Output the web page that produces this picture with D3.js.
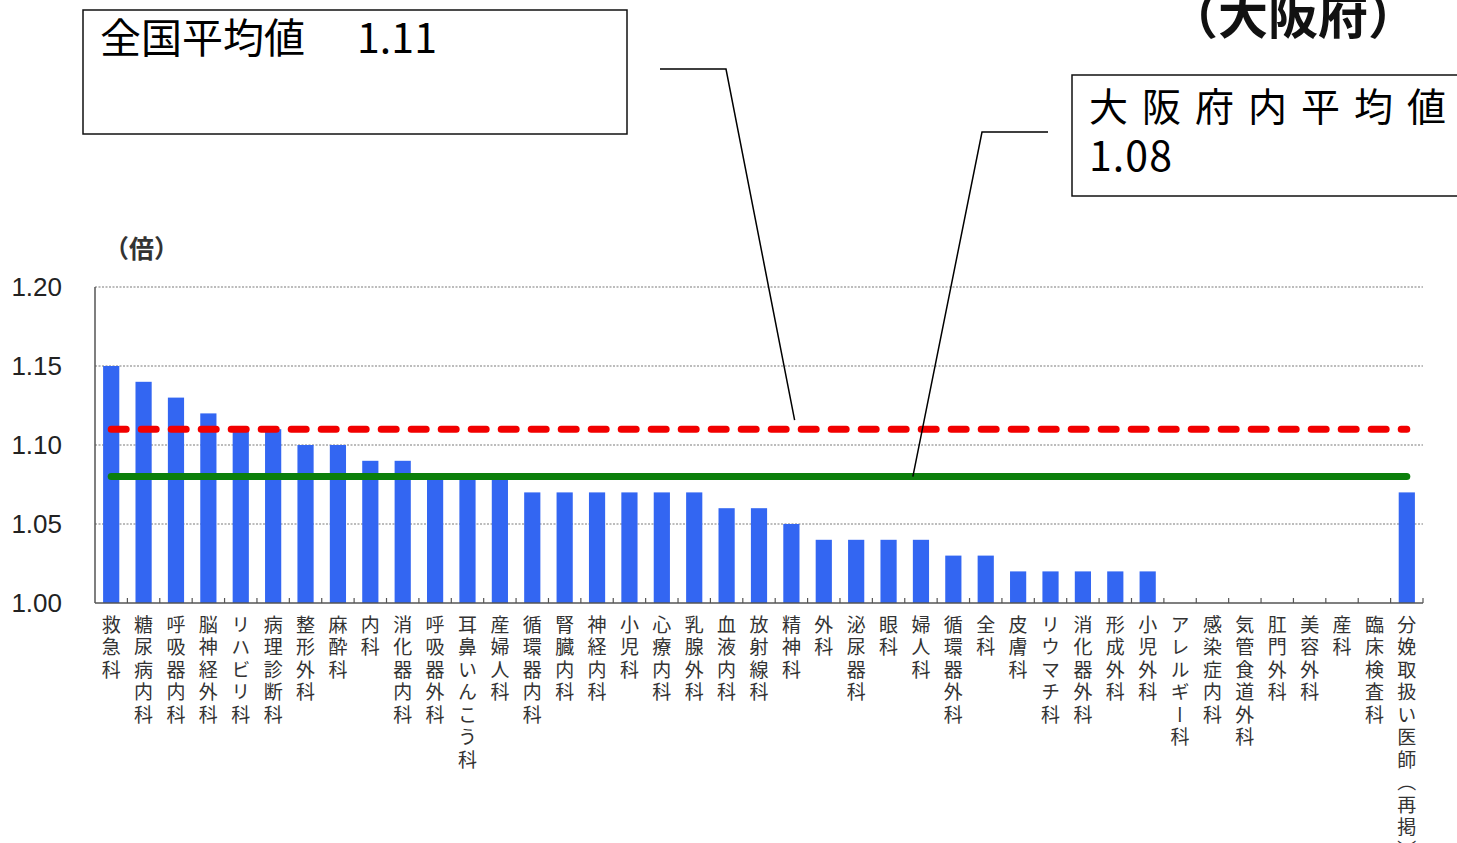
<!DOCTYPE html>
<html lang="ja">
<head>
<meta charset="utf-8">
<script src="https://cdn.jsdelivr.net/npm/d3@7"></script>
<style>
  html, body { margin: 0; padding: 0; background: #fff; overflow: hidden; }
  svg { display: block; }
  .cat { writing-mode: vertical-rl; }
</style>
</head>
<body>
<svg id="chart" width="1457" height="843"></svg>
<script>
// 診療科別の倍率（大阪府）
const categories = [
  "救急科", "糖尿病内科", "呼吸器内科", "脳神経外科", "リハビリ科", "病理診断科",
  "整形外科", "麻酔科", "内科", "消化器内科", "呼吸器外科", "耳鼻いんこう科",
  "産婦人科", "循環器内科", "腎臓内科", "神経内科", "小児科", "心療内科",
  "乳腺外科", "血液内科", "放射線科", "精神科", "外科", "泌尿器科", "眼科",
  "婦人科", "循環器外科", "全科", "皮膚科", "リウマチ科", "消化器外科",
  "形成外科", "小児外科", "アレルギー科", "感染症内科", "気管食道外科",
  "肛門外科", "美容外科", "産科", "臨床検査科", "分娩取扱い医師（再掲）"
];
const values = [
  1.15, 1.14, 1.13, 1.12, 1.11, 1.11,
  1.10, 1.10, 1.09, 1.09, 1.08, 1.08,
  1.08, 1.07, 1.07, 1.07, 1.07, 1.07,
  1.07, 1.06, 1.06, 1.05, 1.04, 1.04, 1.04,
  1.04, 1.03, 1.03, 1.02, 1.02, 1.02,
  1.02, 1.02, 1.00, 1.00, 1.00,
  1.00, 1.00, 1.00, 1.00, 1.07
];
const yTicks = [1.00, 1.05, 1.10, 1.15, 1.20];
const nationalAverage = 1.11;
const prefectureAverage = 1.08;
const titleText = "（大阪府）";
const unitText = "（倍）";
const nationalLabel = "全国平均値";
const prefectureLabel = "大阪府内平均値";

const svg = d3.select("#chart");
const plot = { left: 95, right: 1423, top: 287, bottom: 603 };
const jp = "'Noto Sans CJK JP', 'Noto Sans', sans-serif";

const x = d3.scaleBand()
  .domain(categories)
  .range([plot.left, plot.right])
  .paddingInner(0.5)
  .paddingOuter(0.25);

const y = d3.scaleLinear()
  .domain([1.00, 1.20])
  .range([plot.bottom, plot.top]);

const cx = c => x(c) + x.bandwidth() / 2;

// dotted horizontal grid lines
svg.append("g")
  .selectAll("line")
  .data(yTicks.filter(t => t > 1.00))
  .join("line")
  .attr("x1", plot.left).attr("x2", plot.right)
  .attr("y1", d => y(d)).attr("y2", d => y(d))
  .attr("stroke", "#7a7a7a")
  .attr("stroke-width", 1.2)
  .attr("stroke-dasharray", "2,1.5");

// bars
svg.append("g")
  .selectAll("rect")
  .data(categories.map((c, i) => ({ c, v: values[i] })))
  .join("rect")
  .attr("x", d => x(d.c))
  .attr("width", x.bandwidth())
  .attr("y", d => y(d.v))
  .attr("height", d => y(1.00) - y(d.v))
  .attr("fill", "#3366f2");

// y axis: labels only, with a plain vertical rule
const yAxis = d3.axisLeft(y)
  .tickValues(yTicks)
  .tickFormat(d3.format(".2f"))
  .tickSize(0)
  .tickPadding(33);
const gy = svg.append("g")
  .attr("transform", `translate(${plot.left},0)`)
  .call(yAxis);
gy.select(".domain").remove();
gy.selectAll("text")
  .attr("font-family", "'Liberation Sans', Arial, sans-serif")
  .attr("font-size", 26)
  .attr("fill", "#222");

svg.append("line")
  .attr("x1", plot.left).attr("x2", plot.left)
  .attr("y1", y(1.20)).attr("y2", y(1.00))
  .attr("stroke", "#555").attr("stroke-width", 1.5);

// x axis baseline with ticks between the categories
svg.append("line")
  .attr("x1", plot.left).attr("x2", plot.right)
  .attr("y1", y(1.00)).attr("y2", y(1.00))
  .attr("stroke", "#555").attr("stroke-width", 1.5);
svg.append("g")
  .selectAll("line")
  .data(d3.range(1, categories.length + 1))
  .join("line")
  .attr("x1", i => plot.left + i * x.step())
  .attr("x2", i => plot.left + i * x.step())
  .attr("y1", y(1.00)).attr("y2", y(1.00) - 5)
  .attr("stroke", "#555").attr("stroke-width", 1.2);

// category labels, written vertically
svg.append("g")
  .selectAll("text")
  .data(categories)
  .join("text")
  .attr("class", "cat")
  .attr("x", d => cx(d))
  .attr("y", y(1.00) + 12)
  .attr("text-anchor", "start")
  .attr("font-family", jp)
  .attr("font-size", 19)
  .attr("letter-spacing", 3.5)
  .attr("fill", "#333")
  .text(d => d);

// average reference lines
const first = categories[0], last = categories[categories.length - 1];
svg.append("line")
  .attr("x1", cx(first)).attr("x2", cx(last))
  .attr("y1", y(prefectureAverage)).attr("y2", y(prefectureAverage))
  .attr("stroke", "#0b7f0b")
  .attr("stroke-width", 7)
  .attr("stroke-linecap", "round");
svg.append("line")
  .attr("x1", cx(first)).attr("x2", cx(last))
  .attr("y1", y(nationalAverage)).attr("y2", y(nationalAverage))
  .attr("stroke", "#f20000")
  .attr("stroke-width", 7)
  .attr("stroke-linecap", "round")
  .attr("stroke-dasharray", "15,15");

// unit label
svg.append("text")
  .attr("x", 104).attr("y", 258)
  .attr("font-family", jp)
  .attr("font-size", 25)
  .attr("font-weight", 700)
  .attr("fill", "#333")
  .text(unitText);

// title
svg.append("text")
  .attr("x", 1168).attr("y", 34)
  .attr("font-family", jp)
  .attr("font-size", 50)
  .attr("font-weight", 700)
  .attr("fill", "#111")
  .text(titleText);

// national average callout
svg.append("rect")
  .attr("x", 83).attr("y", 10).attr("width", 544).attr("height", 124)
  .attr("fill", "#fff").attr("stroke", "#111").attr("stroke-width", 1.5);
const t1 = svg.append("text")
  .attr("y", 53)
  .attr("font-family", jp)
  .attr("font-size", 41)
  .attr("fill", "#000");
t1.append("tspan").attr("x", 100).text(nationalLabel);
t1.append("tspan").attr("x", 357)
  .attr("textLength", 80).attr("lengthAdjust", "spacing")
  .text(d3.format(".2f")(nationalAverage));

svg.append("path")
  .attr("d", d3.line()([
    [660, 69], [726, 69],
    [plot.left + 21.6 * x.step(), y(nationalAverage) - 9]
  ]))
  .attr("fill", "none").attr("stroke", "#000").attr("stroke-width", 1.5);

// prefecture average callout
svg.append("rect")
  .attr("x", 1072).attr("y", 75).attr("width", 400).attr("height", 121)
  .attr("fill", "#fff").attr("stroke", "#111").attr("stroke-width", 1.5);
svg.append("text")
  .attr("x", 1089).attr("y", 121)
  .attr("font-family", jp)
  .attr("font-size", 39)
  .attr("letter-spacing", 14)
  .attr("fill", "#000")
  .text(prefectureLabel);
svg.append("text")
  .attr("x", 1089).attr("y", 171)
  .attr("font-family", jp)
  .attr("font-size", 41)
  .attr("textLength", 83).attr("lengthAdjust", "spacing")
  .attr("fill", "#000")
  .text(d3.format(".2f")(prefectureAverage));

svg.append("path")
  .attr("d", d3.line()([
    [1048, 132], [982, 132],
    [plot.left + 25.25 * x.step(), y(prefectureAverage)]
  ]))
  .attr("fill", "none").attr("stroke", "#000").attr("stroke-width", 1.5);
</script>
</body>
</html>
